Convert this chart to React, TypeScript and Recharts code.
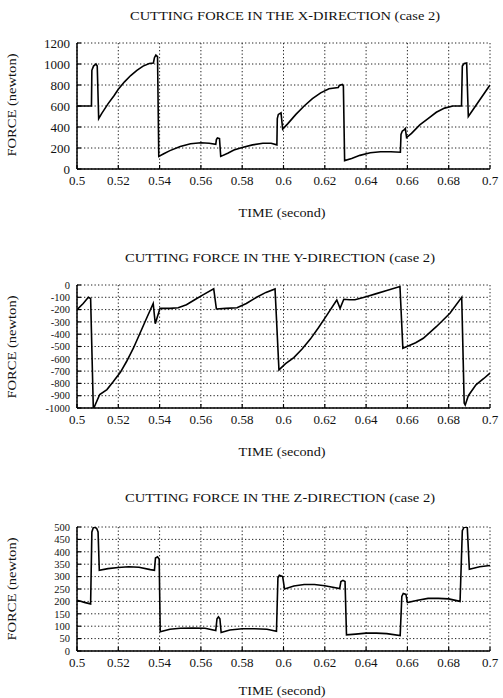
import React from "react";
import { LineChart, Line, XAxis, YAxis, CartesianGrid } from "recharts";

const timeTicks = [0.5, 0.52, 0.54, 0.56, 0.58, 0.6, 0.62, 0.64, 0.66, 0.68, 0.7];
const xForceTicks = [0, 200, 400, 600, 800, 1000, 1200];
const yForceTicks = [0, -100, -200, -300, -400, -500, -600, -700, -800, -900, -1000];
const zForceTicks = [0, 50, 100, 150, 200, 250, 300, 350, 400, 450, 500];

// X-direction force (newton) vs time (second)
const xTime = [
  0.5, 0.507, 0.5072, 0.508, 0.5092, 0.5098, 0.5105, 0.512, 0.515, 0.518, 0.52, 0.523, 0.526, 0.529,
  0.532, 0.535, 0.537, 0.5375, 0.5382, 0.539, 0.5396, 0.542, 0.545, 0.55, 0.555, 0.56, 0.564, 0.5672,
  0.5675, 0.568, 0.569, 0.5696, 0.573, 0.576, 0.58, 0.585, 0.59, 0.594, 0.5968, 0.597, 0.5975, 0.5988,
  0.5996, 0.602, 0.606, 0.61, 0.614, 0.618, 0.622, 0.6265, 0.627, 0.6285, 0.629, 0.6296, 0.633, 0.637,
  0.642, 0.647, 0.652, 0.6566, 0.6569, 0.6575, 0.6585, 0.659, 0.6596, 0.662, 0.666, 0.67, 0.674, 0.678,
  0.682, 0.6862, 0.6866, 0.6875, 0.6887, 0.6895, 0.7,
];
const xForce = [
  600, 600, 940, 980, 1000, 980, 480, 530, 620, 700, 760, 830, 890, 940,
  980, 1005, 1010, 1060, 1085, 1070, 120, 145, 175, 215, 240, 250, 245, 235,
  280, 295, 290, 120, 150, 180, 205, 230, 245, 245, 230, 480, 520, 535,
  380, 430, 520, 600, 670, 725, 765, 775, 795, 805, 790, 80, 100, 130,
  155, 165, 165, 160, 330, 360, 375, 385, 300, 340, 420, 480, 540, 580,
  600, 600, 980, 1005, 1010, 500, 800,
];

// Y-direction force
const yTime = [
  0.5, 0.503, 0.5055, 0.5066, 0.5079, 0.5084, 0.511, 0.5145, 0.5176, 0.521, 0.524, 0.5273, 0.5305,
  0.5337, 0.5369, 0.5379, 0.5402, 0.545, 0.549, 0.553, 0.557, 0.561, 0.5662, 0.5675, 0.572, 0.5775,
  0.582, 0.587, 0.5915, 0.5959, 0.5978, 0.601, 0.605, 0.609, 0.613, 0.617, 0.621, 0.6258, 0.6274,
  0.6292, 0.632, 0.6346, 0.64, 0.645, 0.65, 0.6564, 0.6578, 0.6612, 0.664, 0.6677, 0.674, 0.6806,
  0.6863, 0.6875, 0.688, 0.6895, 0.6932, 0.697, 0.7,
];
const yForce = [
  -200, -150, -100, -110, -1000, -990, -890, -850, -785, -710, -622, -514, -392,
  -270, -150, -315, -190, -190, -185, -160, -120, -80, -30, -195, -190, -185,
  -150, -100, -60, -32, -690, -640, -590, -520, -440, -345, -245, -122, -190,
  -116, -120, -120, -95, -70, -45, -12, -515, -490, -470, -433, -339, -230,
  -100, -960, -975, -900, -811, -760, -716,
];

// Z-direction force
const zTime = [
  0.5, 0.504, 0.5066, 0.5072, 0.508, 0.5095, 0.5102, 0.5108, 0.515, 0.52, 0.525, 0.53, 0.5355,
  0.5375, 0.538, 0.539, 0.5398, 0.5403, 0.545, 0.55, 0.556, 0.562, 0.5672, 0.5678, 0.5685, 0.5692,
  0.5698, 0.574, 0.58, 0.586, 0.592, 0.5966, 0.5973, 0.598, 0.5996, 0.6005, 0.605, 0.61, 0.615,
  0.62, 0.6272, 0.6278, 0.6288, 0.6298, 0.6305, 0.635, 0.64, 0.645, 0.65, 0.6565, 0.6573, 0.658,
  0.6593, 0.66, 0.665, 0.67, 0.675, 0.68, 0.6855, 0.6866, 0.6875, 0.689, 0.69, 0.695, 0.7,
];
const zForce = [
  205, 195, 190, 480, 500, 495, 480, 325, 332, 337, 340, 338, 328,
  325, 375, 380, 370, 78, 88, 92, 93, 92, 83, 130, 138, 130,
  75, 85, 90, 90, 88, 80, 295, 305, 300, 250, 262, 268, 268,
  263, 252, 280, 285, 280, 65, 68, 72, 72, 70, 62, 220, 232,
  228, 195, 205, 212, 212, 210, 200, 485, 500, 498, 330, 340, 345,
];

const toRows = (t: number[], f: number[]) => t.map((time, i) => ({ time, force: f[i] }));

const FONT = "'Liberation Serif', 'DejaVu Serif', serif";
const tickStyle = { fontSize: 13, fontFamily: FONT, fill: "#111" };
const PLOT_LEFT = 77;
const PLOT_RIGHT = 490;

interface PanelProps {
  rows: { time: number; force: number }[];
  ticks: number[];
  domain: [number, number];
  plotTop: number;
  plotBottom: number;
  yFont: number;
}

function Panel({ rows, ticks, domain, plotTop, plotBottom, yFont }: PanelProps) {
  const padTop = 20;
  const axisH = 30;
  const yW = 45;
  return (
    <div style={{ position: "absolute", left: 0, top: plotTop - padTop }}>
      <LineChart
        width={503}
        height={plotBottom - plotTop + padTop + axisH}
        data={rows}
        margin={{ top: padTop, right: 503 - PLOT_RIGHT, left: PLOT_LEFT - yW, bottom: 0 }}
      >
        <CartesianGrid stroke="#222" strokeDasharray="1.3 2.2" strokeWidth={1} />
        <XAxis
          dataKey="time"
          type="number"
          domain={[0.5, 0.7]}
          ticks={timeTicks}
          interval={0}
          height={axisH}
          tick={tickStyle}
          tickSize={-4}
          tickMargin={11}
          tickFormatter={(v) => String(v)}
          axisLine={{ stroke: "#000", strokeWidth: 1.5 }}
          tickLine={{ stroke: "#000", strokeWidth: 1.2 }}
          allowDataOverflow
        />
        <XAxis
          xAxisId="top"
          orientation="top"
          dataKey="time"
          type="number"
          domain={[0.5, 0.7]}
          ticks={timeTicks}
          interval={0}
          height={0}
          tickSize={-4}
          tickFormatter={() => ""}
          axisLine={{ stroke: "#000", strokeWidth: 1.5 }}
          tickLine={{ stroke: "#000", strokeWidth: 1.2 }}
          allowDataOverflow
        />
        <YAxis
          type="number"
          domain={domain}
          ticks={ticks}
          interval={0}
          width={yW}
          tick={{ ...tickStyle, fontSize: yFont }}
          tickSize={-4}
          tickMargin={11}
          axisLine={{ stroke: "#000", strokeWidth: 1.5 }}
          tickLine={{ stroke: "#000", strokeWidth: 1.2 }}
          allowDataOverflow
        />
        <YAxis
          yAxisId="right"
          orientation="right"
          type="number"
          domain={domain}
          ticks={ticks}
          interval={0}
          width={0}
          tickSize={-4}
          tickFormatter={() => ""}
          axisLine={{ stroke: "#000", strokeWidth: 1.5 }}
          tickLine={{ stroke: "#000", strokeWidth: 1.2 }}
          allowDataOverflow
        />
        <Line
          type="linear"
          dataKey="force"
          stroke="#000"
          strokeWidth={1.6}
          dot={false}
          isAnimationActive={false}
        />
      </LineChart>
    </div>
  );
}

const panels = [
  { title: "CUTTING FORCE IN THE X-DIRECTION (case 2)", rows: toRows(xTime, xForce), ticks: xForceTicks, domain: [0, 1200] as [number, number], plotTop: 43, plotBottom: 169, yFont: 13, titleX: 285, titleY: 15, timeY: 212, forceY: 105 },
  { title: "CUTTING FORCE IN THE Y-DIRECTION (case 2)", rows: toRows(yTime, yForce), ticks: yForceTicks, domain: [-1000, 0] as [number, number], plotTop: 285, plotBottom: 408, yFont: 10.5, titleX: 280, titleY: 257, timeY: 451, forceY: 347 },
  { title: "CUTTING FORCE IN THE Z-DIRECTION (case 2)", rows: toRows(zTime, zForce), ticks: zForceTicks, domain: [0, 500] as [number, number], plotTop: 527, plotBottom: 651, yFont: 10.5, titleX: 280, titleY: 497, timeY: 690, forceY: 589 },
];

export default function App() {
  return (
    <div style={{ position: "absolute", left: 0, top: 0, width: 503, height: 698, background: "#fff" }}>
      {panels.map((p) => (
        <Panel key={p.title} rows={p.rows} ticks={p.ticks} domain={p.domain} plotTop={p.plotTop} plotBottom={p.plotBottom} yFont={p.yFont} />
      ))}
      <svg width={503} height={698} style={{ position: "absolute", left: 0, top: 0, pointerEvents: "none" }}>
        {panels.map((p) => (
          <g key={p.title} fontFamily={FONT} fill="#111">
            <text x={p.titleX} y={p.titleY} textAnchor="middle" dominantBaseline="central" fontSize={13} textLength={310} lengthAdjust="spacingAndGlyphs">
              {p.title}
            </text>
            <text x={282} y={p.timeY} textAnchor="middle" dominantBaseline="central" fontSize={13} textLength={87} lengthAdjust="spacingAndGlyphs">
              TIME (second)
            </text>
            <text
              x={12}
              y={p.forceY}
              transform={`rotate(-90 12 ${p.forceY})`}
              textAnchor="middle"
              dominantBaseline="central"
              fontSize={12.5}
              textLength={103}
              lengthAdjust="spacingAndGlyphs"
            >
              FORCE (newton)
            </text>
          </g>
        ))}
      </svg>
    </div>
  );
}
